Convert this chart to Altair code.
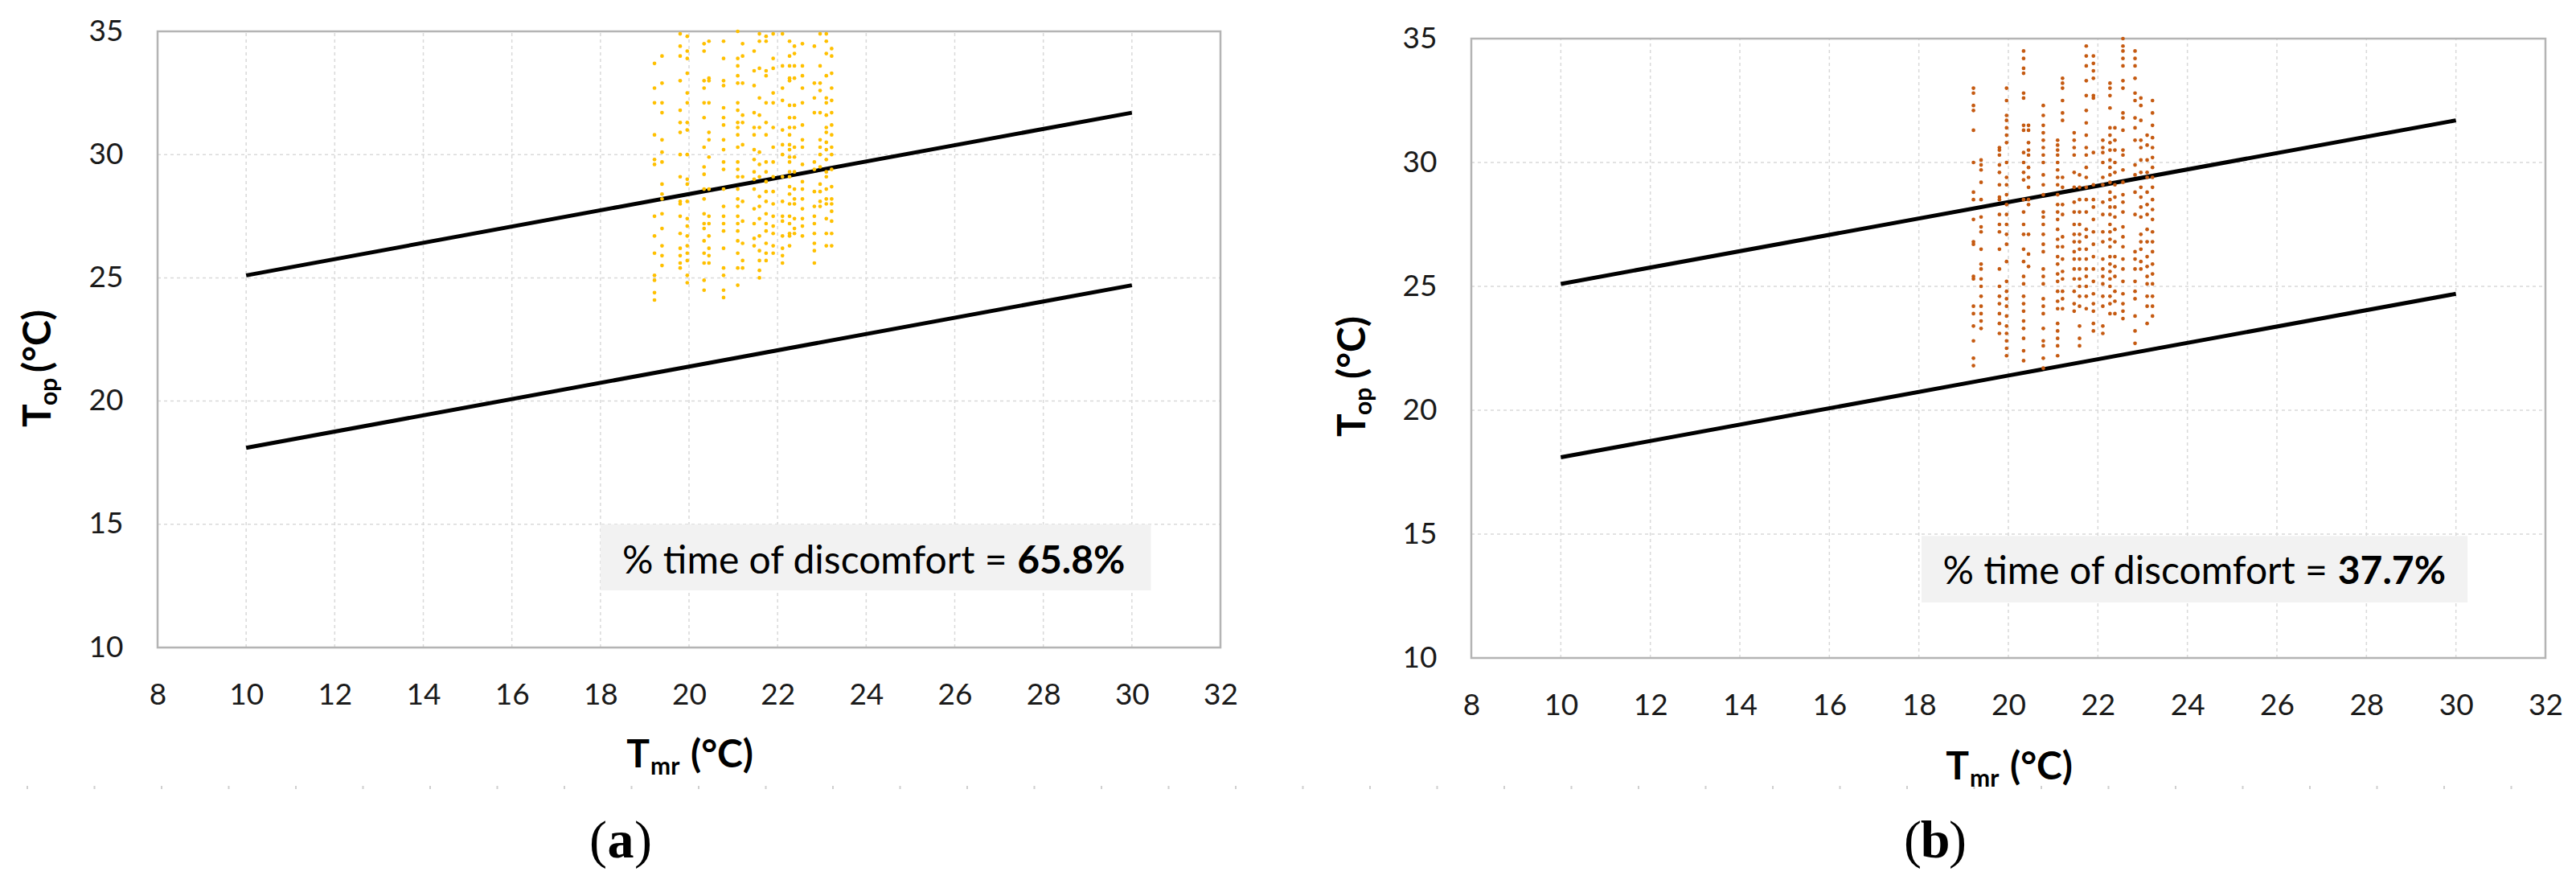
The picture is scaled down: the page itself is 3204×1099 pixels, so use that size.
import altair as alt
import pandas as pd

# ---------------- data ----------------
TMR_DAYS = [19.22, 19.39, 19.80, 19.96, 20.34, 20.45, 20.78, 21.10, 21.21, 21.47, 21.59,
            21.74, 21.90, 22.11, 22.27, 22.38, 22.56, 22.83, 22.96, 23.10, 23.22]

TOP_A = [
    [33.7, 32.7, 32.1, 30.8, 29.8, 29.6, 27.5, 26.7, 26.0, 25.1, 24.9, 24.4, 24.1],
    [34.0, 32.9, 32.1, 31.7, 30.6, 30.1, 29.7, 28.8, 28.4, 28.2, 27.6, 27.0, 26.3, 25.9, 25.5],
    [34.9, 34.4, 34.0, 33.0, 31.8, 31.3, 30.9, 30.0, 29.1, 28.1, 28.0, 27.5, 26.8, 26.2, 25.9, 25.6, 25.4],
    [34.8, 34.2, 33.9, 33.3, 32.5, 32.1, 31.3, 31.0, 30.0, 29.0, 28.8, 28.1, 27.4, 27.1, 26.7, 26.3, 26.0, 25.7, 25.1, 24.8],
    [34.5, 34.2, 33.0, 32.7, 32.1, 31.5, 30.3, 29.5, 29.2, 28.6, 28.2, 27.6, 27.2, 27.0, 26.5, 26.0, 25.6, 24.9, 24.5],
    [34.6, 33.1, 33.0, 32.1, 30.9, 30.6, 29.9, 28.6, 27.5, 27.2, 26.7, 26.2, 25.9, 25.6],
    [34.6, 33.9, 33.0, 32.8, 31.9, 31.5, 31.2, 30.6, 30.2, 29.7, 29.4, 28.6, 27.9, 27.5, 27.2, 26.9, 26.2, 25.4, 25.1, 24.5, 24.2],
    [35.0, 33.9, 33.6, 33.2, 32.9, 32.1, 31.8, 31.3, 31.1, 30.8, 30.3, 29.7, 29.4, 29.1, 28.6, 28.2, 27.9, 27.5, 27.2, 26.9, 26.5, 26.0, 25.4, 24.7],
    [34.5, 34.0, 32.9, 31.6, 31.3, 30.4, 29.1, 28.1, 27.3, 26.4, 25.7, 25.4],
    [34.2, 33.4, 32.8, 31.7, 31.1, 30.8, 30.2, 29.8, 29.3, 29.0, 28.6, 27.8, 27.2, 26.6, 26.3],
    [34.9, 34.6, 33.5, 32.3, 31.6, 31.1, 30.1, 29.6, 29.1, 28.3, 27.9, 27.4, 26.7, 26.1, 25.7, 25.3, 25.0],
    [34.8, 34.6, 33.4, 33.2, 32.1, 31.3, 30.8, 29.7, 29.3, 28.9, 28.5, 28.1, 27.6, 27.2, 26.9, 26.4, 26.0, 25.7],
    [34.9, 33.9, 33.5, 32.5, 32.1, 31.1, 30.3, 29.7, 29.1, 28.5, 28.0, 27.5, 27.1, 26.8, 26.3, 26.0],
    [34.9, 33.6, 32.7, 32.2, 31.0, 30.4, 30.0, 29.1, 28.1, 27.5, 27.3, 26.7, 26.2, 25.9, 25.6],
    [34.6, 34.0, 33.6, 33.1, 33.0, 32.0, 31.5, 31.1, 30.8, 30.4, 30.2, 29.9, 29.7, 29.3, 29.1, 28.7, 28.4, 28.0, 27.5, 27.2, 26.8, 26.7, 26.3],
    [34.4, 34.1, 33.6, 33.1, 32.0, 31.5, 31.1, 30.3, 29.9, 29.3, 28.6, 28.2, 28.0, 27.4, 27.0, 26.8],
    [34.5, 33.6, 33.2, 32.7, 32.1, 31.2, 30.6, 30.3, 29.6, 28.9, 28.6, 28.2, 27.8, 27.4, 27.1, 26.7],
    [34.4, 32.9, 32.3, 31.7, 29.7, 29.4, 28.5, 27.9, 27.5, 27.2, 26.8, 26.4, 26.1, 25.6],
    [34.9, 33.6, 32.9, 32.6, 31.7, 30.6, 30.3, 30.0, 29.5, 28.8, 28.5, 28.1, 27.9],
    [34.9, 34.6, 34.1, 33.2, 32.3, 32.1, 31.6, 31.1, 30.9, 30.5, 30.2, 29.8, 29.3, 29.1, 28.6, 28.2, 28.0, 27.4, 26.8, 26.3],
    [34.3, 34.0, 33.3, 32.7, 32.2, 31.7, 31.2, 30.8, 30.3, 30.0, 29.4, 28.7, 28.2, 28.0, 27.7, 27.3, 26.8, 26.3],
]

TOP_B = [
    [33.0, 32.8, 32.3, 32.1, 31.3, 30.0, 28.8, 28.5, 27.7, 26.8, 26.7, 25.4, 25.3, 24.2, 23.9, 23.4, 22.8, 22.1, 21.8],
    [30.1, 29.9, 29.7, 29.2, 28.5, 27.8, 27.4, 27.2, 26.5, 25.9, 25.7, 25.3, 25.0, 24.6, 24.2, 23.9, 23.6, 23.3],
    [30.6, 30.5, 30.3, 29.9, 29.6, 29.1, 28.6, 28.5, 27.9, 27.5, 27.2, 26.5, 25.7, 25.0, 24.6, 24.3, 23.9, 23.5, 23.1],
    [33.0, 32.5, 31.9, 31.7, 31.4, 31.1, 30.8, 30.0, 29.4, 29.1, 28.7, 28.3, 27.9, 27.5, 27.1, 26.7, 26.0, 25.2, 24.8, 24.5, 24.2, 23.8, 23.4, 23.1, 22.8, 22.5, 22.2],
    [34.5, 34.2, 33.8, 33.6, 32.8, 32.6, 31.5, 31.3, 30.4, 30.0, 29.6, 29.3, 28.5, 28.0, 27.5, 27.1, 26.5, 26.0, 25.4, 25.1, 24.6, 24.3, 24.0, 23.6, 23.3, 22.9, 22.4, 22.0],
    [31.5, 31.3, 30.8, 30.5, 30.3, 29.8, 29.4, 29.0, 28.5, 28.3, 27.1, 26.3, 25.8],
    [32.3, 31.9, 31.5, 31.2, 30.9, 30.6, 30.3, 30.0, 29.5, 29.1, 28.7, 28.0, 27.8, 27.5, 27.1, 26.7, 26.4, 25.7, 25.4, 25.1, 24.5, 24.2, 23.9, 23.3, 22.8, 22.6, 22.1, 21.7],
    [30.9, 30.7, 30.5, 30.3, 30.0, 29.7, 29.4, 29.1, 28.7, 28.3, 28.0, 27.7, 27.3, 26.9, 26.6, 26.2, 25.9, 25.5, 25.2, 24.8, 24.4, 24.1, 23.5, 23.2, 22.9, 22.6, 22.2],
    [33.4, 33.2, 33.0, 32.5, 32.0, 31.7, 29.4, 29.0, 28.3, 27.9, 27.0, 26.6, 26.1, 25.6, 25.3, 24.8, 24.5, 24.1],
    [31.2, 30.9, 30.6, 30.3, 29.6, 29.0, 28.4, 28.0, 27.5, 27.1, 26.8, 26.4, 26.1, 25.7, 25.3, 24.8, 24.3, 24.0],
    [29.5, 29.0, 28.5, 28.0, 27.5, 27.1, 26.8, 26.5, 26.1, 25.7, 25.3, 25.0, 24.6, 24.2, 23.4, 22.9, 22.6],
    [34.7, 34.3, 33.9, 33.3, 32.7, 32.1, 31.6, 31.1, 30.6, 30.3, 29.8, 29.4, 29.0, 28.5, 28.0, 27.3, 27.0, 26.5, 26.1, 25.7, 25.4, 25.0, 24.6, 24.1],
    [34.3, 34.0, 33.7, 33.4, 32.7, 32.6, 30.4, 29.1, 28.5, 28.2, 27.7, 27.2, 26.7, 26.2, 25.7, 25.2, 24.7, 24.3, 24.0, 23.5, 23.2],
    [30.9, 30.6, 30.4, 30.0, 29.4, 29.1, 28.4, 27.9, 27.2, 26.8, 26.1, 25.7, 25.4, 25.1, 24.6, 24.2, 23.4, 23.1],
    [33.2, 33.0, 32.7, 32.2, 31.4, 31.1, 30.8, 30.5, 30.1, 29.8, 29.5, 29.2, 28.8, 28.5, 28.2, 27.9, 27.5, 27.2, 26.9, 26.6, 26.2, 25.9, 25.6, 25.3, 25.0, 24.6, 24.3, 23.9],
    [31.4, 30.9, 30.5, 30.0, 29.6, 29.1, 28.6, 28.2, 27.8, 27.3, 26.8, 26.2, 25.8, 25.4, 24.8, 24.4, 23.9],
    [35.0, 34.7, 34.5, 34.2, 33.9, 33.3, 33.0, 32.0, 31.8, 31.3, 30.5, 30.3, 29.7, 29.2, 28.7, 28.4, 28.0, 27.4, 27.0, 26.6, 26.1, 25.7, 25.2, 24.7, 24.3, 24.0, 23.7],
    [34.5, 34.2, 33.9, 33.4, 32.8, 32.5, 31.8, 31.4, 30.9, 29.9, 29.5, 28.8, 27.9, 26.4, 26.1, 25.7, 25.2, 24.8, 24.5, 23.8, 23.2, 22.7],
    [32.6, 32.3, 31.7, 30.9, 30.6, 30.1, 29.6, 29.0, 28.6, 28.2, 27.8, 27.1, 26.8, 26.5, 26.0, 25.7],
    [31.1, 30.7, 30.1, 29.6, 29.4, 28.8, 28.3, 27.9, 27.3, 26.8, 26.2, 25.8, 25.4, 25.1, 24.6, 24.2, 23.5],
    [32.5, 32.0, 31.5, 31.0, 30.6, 30.2, 29.8, 29.4, 29.0, 28.5, 28.1, 27.7, 27.2, 26.8, 26.4, 25.9, 25.5, 25.1, 24.6, 24.2, 23.8],
]

LIMIT_TMR = [10, 20, 30]
UPPER_LIMIT = [25.1, 28.4, 31.7]
LOWER_LIMIT = [18.1, 21.4, 24.7]

X_TICKS = [8, 10, 12, 14, 16, 18, 20, 22, 24, 26, 28, 30, 32]
Y_TICKS = [10, 15, 20, 25, 30, 35]

DISCOMFORT_LABEL = "% time of discomfort ="
DISCOMFORT = ["65.8%", "37.7%"]
PANEL_LETTERS = ["a", "b"]
POINT_COLORS = ["#FFC000", "#C55A11"]

# ---------------- styling ----------------
FONT = "Lato"
SERIF = "Liberation Serif"
GRID = "#d9d9d9"
BORDER = "#b4b4b4"
ONE = pd.DataFrame({"k": [0]})


def ptext(txt, x, y, size, weight="bold", angle=0, align="left", font=FONT):
    return alt.Chart(ONE).mark_text(
        text=txt, font=font, fontSize=size, fontWeight=weight, angle=angle,
        align=align, baseline="alphabetic", color="#000000"
    ).encode(x=alt.value(x), y=alt.value(y))


def make_panel(i, W, H, top, box, eq_end, bold_start, xt_dx, xt_base, yt, lab_cx,
               sep_x0, sep_x1, first=False):
    tops = [TOP_A, TOP_B][i]
    pts = pd.DataFrame([{"Tmr": x, "Top": y} for x, col in zip(TMR_DAYS, tops) for y in col])
    n = len(LIMIT_TMR)
    lim = pd.DataFrame({"Tmr": LIMIT_TMR + LIMIT_TMR,
                        "Top": UPPER_LIMIT + LOWER_LIMIT,
                        "limit": ["upper"] * n + ["lower"] * n})

    xs = alt.Scale(domain=[8, 32], nice=False, zero=False)
    ys = alt.Scale(domain=[10, 35], nice=False, zero=False, range=[H, top])
    common = dict(title=None, domain=False, ticks=False, tickSize=0, grid=False,
                  labelFontSize=37, labelFont=FONT, labelColor="#1a1a1a",
                  labelFlush=False, labelOverlap=False, format="d")
    xax = alt.Axis(values=X_TICKS, labelPadding=41, **common)
    yax = alt.Axis(values=Y_TICKS, labelPadding=43, **common)

    def X(f):
        return alt.X(f, type="quantitative", scale=xs, axis=xax)

    def Y(f):
        return alt.Y(f, type="quantitative", scale=ys, axis=yax)

    def XD(v):
        return alt.XDatum(v, type="quantitative", scale=xs, axis=xax)

    def YD(v):
        return alt.YDatum(v, type="quantitative", scale=ys, axis=yax)

    vgrid = alt.Chart(pd.DataFrame({"t": X_TICKS})).mark_rule(
        color=GRID, strokeWidth=1.5, strokeDash=[4, 4]
    ).encode(x=X("t"), y=YD(10), y2=alt.Y2Datum(35))
    hgrid = alt.Chart(pd.DataFrame({"t": Y_TICKS})).mark_rule(
        color=GRID, strokeWidth=1.5, strokeDash=[4, 4]
    ).encode(y=Y("t"), x=XD(8), x2=alt.X2Datum(32))

    boxr = alt.Chart(ONE).mark_rect(color="#f2f2f2").encode(
        x=XD(box[0]), x2=alt.X2Datum(box[1]), y=YD(box[2]), y2=alt.Y2Datum(box[3]))
    t1 = alt.Chart(ONE).mark_text(
        text=DISCOMFORT_LABEL, font=FONT, fontSize=48, align="right",
        baseline="alphabetic", color="#000000"
    ).encode(x=XD(eq_end), y=YD(13.0))
    t2 = alt.Chart(ONE).mark_text(
        text=DISCOMFORT[i], font=FONT, fontSize=48, fontWeight="bold", align="left",
        baseline="alphabetic", color="#000000"
    ).encode(x=XD(bold_start), y=YD(13.0))

    border = alt.Chart(ONE).mark_rect(
        fillOpacity=0, stroke=BORDER, strokeWidth=2.5
    ).encode(x=XD(8), x2=alt.X2Datum(32), y=YD(10), y2=alt.Y2Datum(35))

    lines = alt.Chart(lim).mark_line(color="#000000", strokeWidth=5).encode(
        x=X("Tmr"), y=Y("Top"), detail="limit:N")
    points = alt.Chart(pts).mark_circle(size=22, opacity=1, color=POINT_COLORS[i]).encode(
        x=X("Tmr"), y=Y("Top"))

    # axis titles with subscripts
    xt = [
        ptext("T", 612 + xt_dx, xt_base, 48, align="right"),
        ptext("mr", 613 + xt_dx, xt_base + 9, 30),
        ptext("(°C)", 663 + xt_dx, xt_base, 48),
    ]
    yx, yT, yop, yC = yt
    ytl = [
        ptext("T", yx, yT, 48, angle=270),
        ptext("op", yx + 8, yop, 30, angle=270),
        ptext("(°C)", yx, yC, 48, angle=270),
    ]
    labels = [
        ptext("(", lab_cx - 17, 1027, 66, weight="normal", align="right", font=SERIF),
        ptext(PANEL_LETTERS[i], lab_cx, 1027, 66, weight="bold", align="center", font=SERIF),
        ptext(")", lab_cx + 17, 1027, 66, weight="normal", align="left", font=SERIF),
    ]
    sep = alt.Chart(ONE).mark_rule(
        color="#d0d0d0", strokeWidth=4, strokeDash=[2, 81.5]
    ).encode(x=alt.value(sep_x0), x2=alt.value(sep_x1), y=alt.value(940))

    layers = [vgrid, hgrid, boxr, border, lines, points, t1, t2, sep] + xt + ytl + labels
    if first:
        anchor = alt.Chart(ONE).mark_rule(color="#ffffff", strokeWidth=2).encode(
            x=alt.value(-186), x2=alt.value(-182), y=alt.value(-29))
        layers.append(anchor)
    return alt.layer(*layers).properties(width=W, height=H)


panel_a = make_panel(0, 1322, 766, 0, (18.0, 30.43, 12.32, 15.0), 27.18, 27.41,
                     0, 915, (-133, 492, 465, 424), 576, -163, 1478, first=True)
panel_b = make_panel(1, 1336, 779, 9, (18.06, 30.26, 12.24, 14.93), 27.13, 27.36,
                     7, 930, (-132, 504, 477, 432), 577, -127, 1345)

chart = alt.hconcat(panel_a, panel_b, spacing=312, bounds="flush").properties(
    padding=0
).configure_view(stroke="transparent")

chart.save("out.html", embed_options={"renderer": "svg", "actions": False})
